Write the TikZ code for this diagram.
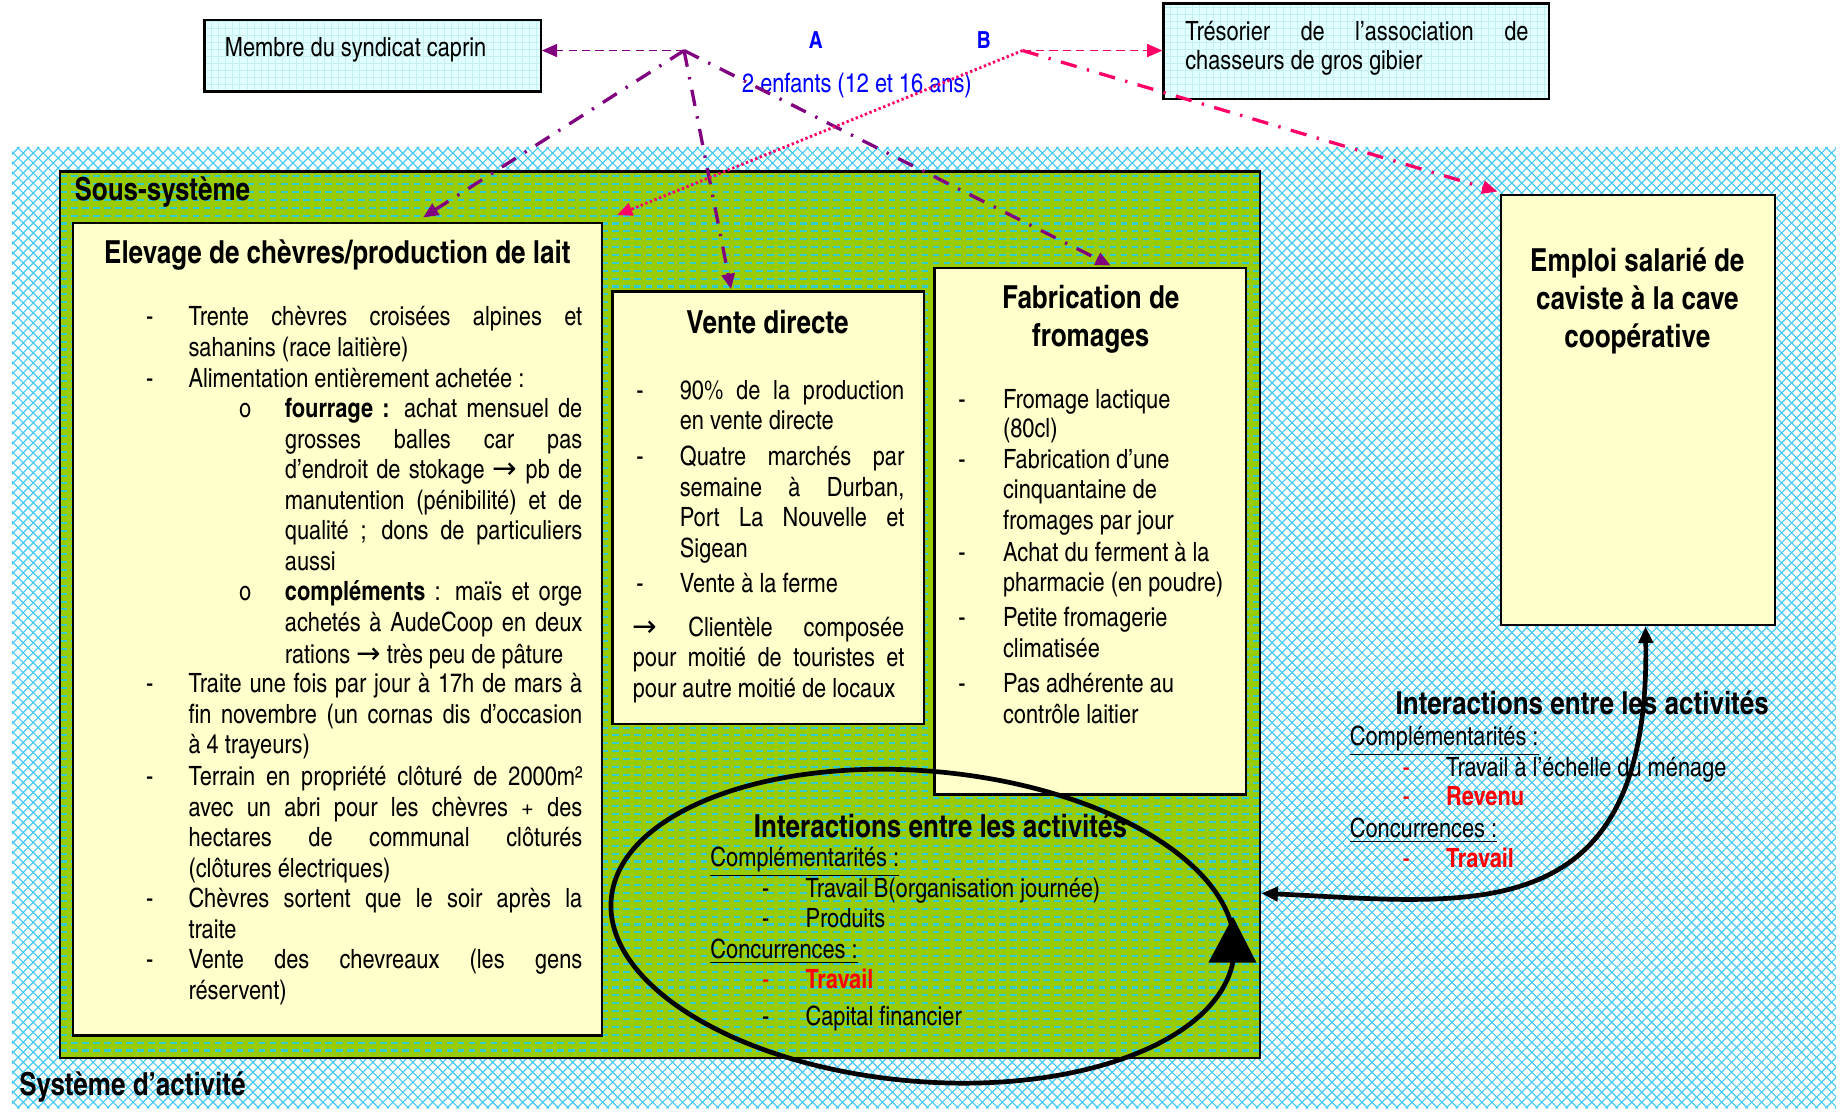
\documentclass[tikz,border=0pt]{standalone}
\usepackage{fontspec}
\setmainfont{texgyreheroscn}[Extension=.otf,UprightFont=*-regular,BoldFont=*-bold,ItalicFont=*-italic,BoldItalicFont=*-bolditalic]
\newfontfamily\arrowfont{DejaVu Sans}
\usetikzlibrary{arrows.meta,fit}

\definecolor{hatchcyan}{HTML}{45CAF6}
\definecolor{subgreen}{HTML}{99CC00}
\definecolor{dashcyan}{HTML}{33CCCC}
\definecolor{boxyellow}{HTML}{FFFFCC}
\definecolor{boxcyan}{HTML}{E2FFFF}
\definecolor{gridcyan}{HTML}{C4F0F0}
\definecolor{linkpurple}{HTML}{800080}
\definecolor{linkpink}{HTML}{FF0066}
\definecolor{labelblue}{HTML}{0000FF}
\definecolor{alertred}{HTML}{FF0000}

\newcommand\bodyf{\fontsize{11.3pt}{13pt}\selectfont}
\newcommand\titf{\fontsize{13.5pt}{16pt}\selectfont\bfseries}
\newcommand\ra{{\arrowfont\fontsize{12.5pt}{12.5pt}\selectfont →}}
\newcommand\jus[2]{\makebox[#1][s]{#2}}
% bullet column: mark, then fixed gap to the item text
\newcommand\bul[2]{\makebox[#1][l]{#2}}

\newlength\wA \setlength\wA{167.5pt}
\newlength\wB \setlength\wB{126.5pt}
\newlength\wC \setlength\wC{95.5pt}
\newlength\wD \setlength\wD{115.5pt}
\newlength\wE \setlength\wE{146pt}

\tikzset{
  txt/.style={anchor=west, inner sep=0pt, text height=8pt, text depth=2.5pt, font=\bodyf, yshift=-1.4pt},
  ttl/.style={inner sep=0pt, font=\titf, align=center, yshift=-1pt},
  hd/.style={anchor=west, inner sep=0pt, font=\titf, yshift=-1.2pt},
  ybox/.style={draw=black, line width=1pt, fill=boxyellow, inner sep=0pt},
  cbox/.style={draw=black, line width=1pt, inner sep=0pt},
  purpdash/.style={linkpurple, line width=0.8pt, dash pattern=on 3.5pt off 2.2pt},
  purpdd/.style={linkpurple, line width=1.4pt, dash pattern=on 7pt off 4.5pt on 1pt off 4.5pt},
  pinkdash/.style={linkpink, line width=0.8pt, dash pattern=on 3.5pt off 2.2pt},
  pinkdot/.style={linkpink, line width=1.2pt, dash pattern=on 1pt off 1.1pt},
  pinkdd/.style={linkpink, line width=1.4pt, dash pattern=on 7pt off 4.5pt on 1pt off 4.5pt},
  tip/.style={-{Triangle[length=6.5pt,width=5.5pt]}},
  bigtip/.style={{Triangle[length=7pt,width=6pt]}-{Triangle[length=7pt,width=6pt]}},
}

\begin{document}
\begin{tikzpicture}[x=0.5pt,y=-0.5pt]
\useasboundingbox (0,0) rectangle (1568,946);

% ---------- activity system: cyan diamond mesh ----------
\node[fit={(10,125)(1562,943)}, inner sep=0pt] (syst) {};
\begin{scope}
  \clip (10,125) rectangle (1562,943);
  \foreach \k in {0,...,285} {
    \draw[hatchcyan, line width=0.5pt] ({\k*8.5-810},943) -- ++(818,-818);
    \draw[hatchcyan, line width=0.5pt] ({\k*8.5-810},125) -- ++(818,818);
  }
\end{scope}

% ---------- sub-system: green with cyan dashed rows ----------
\fill[subgreen] (51,146) rectangle (1072,900);
\begin{scope}
  \clip (51,146) rectangle (1072,900);
  \foreach \r in {0,...,112} {
    \draw[dashcyan, line width=0.9pt, dash pattern=on 2.8pt off 1.9pt] (51,{150+\r*6.7}) -- (1072,{150+\r*6.7});
  }
\end{scope}
\node[fit={(51,146)(1072,900)}, draw=black, line width=1.15pt, inner sep=0pt] (sous) {};
\node[hd] (soust) at (63,161) {Sous-système};
\node[hd] (systt) at (16,922) {Système d’activité};

% ---------- upper boxes ----------
\fill[boxcyan] (174,17) rectangle (460,78);
\begin{scope}
  \clip (174,17) rectangle (460,78);
  \draw[gridcyan, line width=0.25pt, step=3pt] (174,17) grid (460,78);
\end{scope}
\node[cbox, fit={(174,17)(460,78)}] (memb) {};
\node[txt] (membt) at (191,40) {Membre du syndicat caprin};

\fill[boxcyan] (990,3) rectangle (1318,84);
\begin{scope}
  \clip (990,3) rectangle (1318,84);
  \draw[gridcyan, line width=0.25pt, step=3pt] (990,3) grid (1318,84);
\end{scope}
\node[cbox, fit={(990,3)(1318,84)}] (treso) {};
\node[txt] (treso1) at (1008,26) {\jus{\wE}{Trésorier de l’association de}};
\node[txt] (treso2) at (1008,51) {chasseurs de gros gibier};

\node[inner sep=0pt, font=\fontsize{10pt}{12pt}\selectfont\bfseries, text=labelblue] (labA) at (694,34) {A};
\node[inner sep=0pt, font=\fontsize{10pt}{12pt}\selectfont\bfseries, text=labelblue] (labB) at (837,34) {B};
\node[inner sep=0pt, font=\bodyf, text=labelblue] (kids) at (729,73) {2 enfants (12 et 16 ans)};

% ---------- goat farming box ----------
\node[ybox, fit={(62,190)(512,881)}] (elev) {};
\node[ttl] (elevt) at (287,215) {Elevage de chèvres/production de lait};
\node[txt] (e1)  at (124,269) {\bul{18pt}{-}\jus{\wA}{Trente chèvres croisées alpines et}};
\node[txt] (e2)  at (160,295) {sahanins (race laitière)};
\node[txt] (e3)  at (124,321) {\bul{18pt}{-}Alimentation entièrement achetée :};
\node[txt] (e4)  at (203,347) {\bul{19.5pt}{o}\jus{\wB}{\textbf{fourrage :} achat mensuel de}};
\node[txt] (e5)  at (242,373) {\jus{\wB}{grosses balles car pas}};
\node[txt] (e6)  at (242,399) {\jus{\wB}{d’endroit de stokage \ra{} pb de}};
\node[txt] (e7)  at (242,425) {\jus{\wB}{manutention (pénibilité) et de}};
\node[txt] (e8)  at (242,451) {\jus{\wB}{qualité ; dons de particuliers}};
\node[txt] (e9)  at (242,477) {aussi};
\node[txt] (e10) at (203,503) {\bul{19.5pt}{o}\jus{\wB}{\textbf{compléments} : maïs et orge}};
\node[txt] (e11) at (242,529) {\jus{\wB}{achetés à AudeCoop en deux}};
\node[txt] (e12) at (242,556) {rations \ra{} très peu de pâture};
\node[txt] (e13) at (124,581) {\bul{18pt}{-}\jus{\wA}{Traite une fois par jour à 17h de mars à}};
\node[txt] (e14) at (160,607) {\jus{\wA}{fin novembre (un cornas dis d’occasion}};
\node[txt] (e15) at (160,633) {à 4 trayeurs)};
\node[txt] (e16) at (124,660) {\bul{18pt}{-}\jus{\wA}{Terrain en propriété clôturé de 2000m²}};
\node[txt] (e17) at (160,686) {\jus{\wA}{avec un abri pour les chèvres + des}};
\node[txt] (e18) at (160,712) {\jus{\wA}{hectares de communal clôturés}};
\node[txt] (e19) at (160,738) {(clôtures électriques)};
\node[txt] (e20) at (124,764) {\bul{18pt}{-}\jus{\wA}{Chèvres sortent que le soir après la}};
\node[txt] (e21) at (160,790) {traite};
\node[txt] (e22) at (124,816) {\bul{18pt}{-}\jus{\wA}{Vente des chevreaux (les gens}};
\node[txt] (e23) at (160,842) {réservent)};

% ---------- direct sale box ----------
\node[ybox, fit={(521,248)(786,616)}] (vente) {};
\node[ttl] (ventet) at (653,272) {Vente directe};
\node[txt] (v1)  at (541,332) {\bul{18.5pt}{-}\jus{\wC}{90\% de la production}};
\node[txt] (v2)  at (578,357) {en vente directe};
\node[txt] (v3)  at (541,388) {\bul{18.5pt}{-}\jus{\wC}{Quatre marchés par}};
\node[txt] (v4)  at (578,414) {\jus{\wC}{semaine à Durban,}};
\node[txt] (v5)  at (578,440) {\jus{\wC}{Port La Nouvelle et}};
\node[txt] (v6)  at (578,466) {Sigean};
\node[txt] (v7)  at (541,496) {\bul{18.5pt}{-}Vente à la ferme};
\node[txt] (v8)  at (538,533) {\jus{\wD}{\ra{} Clientèle composée}};
\node[txt] (v9)  at (538,559) {\jus{\wD}{pour moitié de touristes et}};
\node[txt] (v10) at (538,585) {pour autre moitié de locaux};

% ---------- cheese making box ----------
\node[ybox, fit={(795,228)(1060,676)}] (fab) {};
\node[ttl] (fabt) at (928,269.5) {Fabrication de\\fromages};
\node[txt] (f1)  at (815,339) {\bul{19pt}{-}Fromage lactique};
\node[txt] (f2)  at (853,364) {(80cl)};
\node[txt] (f3)  at (815,390) {\bul{19pt}{-}Fabrication d’une};
\node[txt] (f4)  at (853,416) {cinquantaine de};
\node[txt] (f5)  at (853,442) {fromages par jour};
\node[txt] (f6)  at (815,469) {\bul{19pt}{-}Achat du ferment à la};
\node[txt] (f7)  at (853,495) {pharmacie (en poudre)};
\node[txt] (f8)  at (815,525) {\bul{19pt}{-}Petite fromagerie};
\node[txt] (f9)  at (853,551) {climatisée};
\node[txt] (f10) at (815,581) {\bul{19pt}{-}Pas adhérente au};
\node[txt] (f11) at (853,607) {contrôle laitier};

% ---------- wage job box ----------
\node[ybox, fit={(1277,166)(1510,532)}] (emploi) {};
\node[ttl] (emploit) at (1393,254) {Emploi salarié de\\caviste à la cave\\coopérative};

% ---------- interactions inside the sub-system ----------
\node[hd] (intA) at (641,700) {Interactions entre les activités};
\node[txt] (ia1) at (604,729) {\underline{Complémentarités :}};
\node[txt] (ia2) at (648,755) {\bul{18.5pt}{-}Travail B(organisation journée)};
\node[txt] (ia3) at (648,781) {\bul{18.5pt}{-}Produits};
\node[txt] (ia4) at (604,807) {\underline{Concurrences :}};
\node[txt] (ia5) at (648,833) {\bul{18.5pt}{\textcolor{alertred}{-}}\textcolor{alertred}{\bfseries Travail}};
\node[txt] (ia6) at (648,864) {\bul{18.5pt}{-}Capital financier};

\draw[line width=2pt, rotate around={-5:(785,788)}] (785,788) ellipse [x radius=133pt, y radius=66pt];
\fill (1049,780) -- (1069,819) -- (1028,819) -- cycle;

% ---------- interactions with the wage job ----------
\node[hd] (intB) at (1187,596) {Interactions entre les activités};
\node[txt] (ib1) at (1148,626) {\underline{Complémentarités :}};
\node[txt] (ib2) at (1193,652) {\bul{18.5pt}{\textcolor{alertred}{-}}Travail à l’échelle du ménage};
\node[txt] (ib3) at (1193,677) {\bul{18.5pt}{\textcolor{alertred}{-}}\textcolor{alertred}{\bfseries Revenu}};
\node[txt] (ib4) at (1148,704) {\underline{Concurrences :}};
\node[txt] (ib5) at (1193,730) {\bul{18.5pt}{\textcolor{alertred}{-}}\textcolor{alertred}{\bfseries Travail}};

\draw[line width=2pt, bigtip] ([yshift=-118.5pt]sous.east) .. controls (1250,768) and (1404,795) .. ([xshift=3.25pt]emploi.south);

% ---------- links A and B ----------
\coordinate (jA) at (582,43);
\coordinate (jB) at (870,43);
\draw[purpdash, tip] (jA) -- (jA -| memb.east);
\draw[purpdd, tip] (jA) -- ([xshift=36.5pt,yshift=2pt]elev.north);
\draw[purpdd, tip] (jA) -- ([xshift=-15.75pt,yshift=0.5pt]vente.north);
\draw[purpdd, tip] (jA) -- ([xshift=8.75pt,yshift=0.5pt]fab.north);
\draw[pinkdash, tip] (jB) -- (jB -| treso.west);
\draw[pinkdot, tip] (jB) -- ([xshift=6pt,yshift=3pt]elev.north east);
\draw[pinkdd, tip] (jB) -- ([xshift=-1pt,yshift=1pt]emploi.north west);
\end{tikzpicture}
\end{document}
